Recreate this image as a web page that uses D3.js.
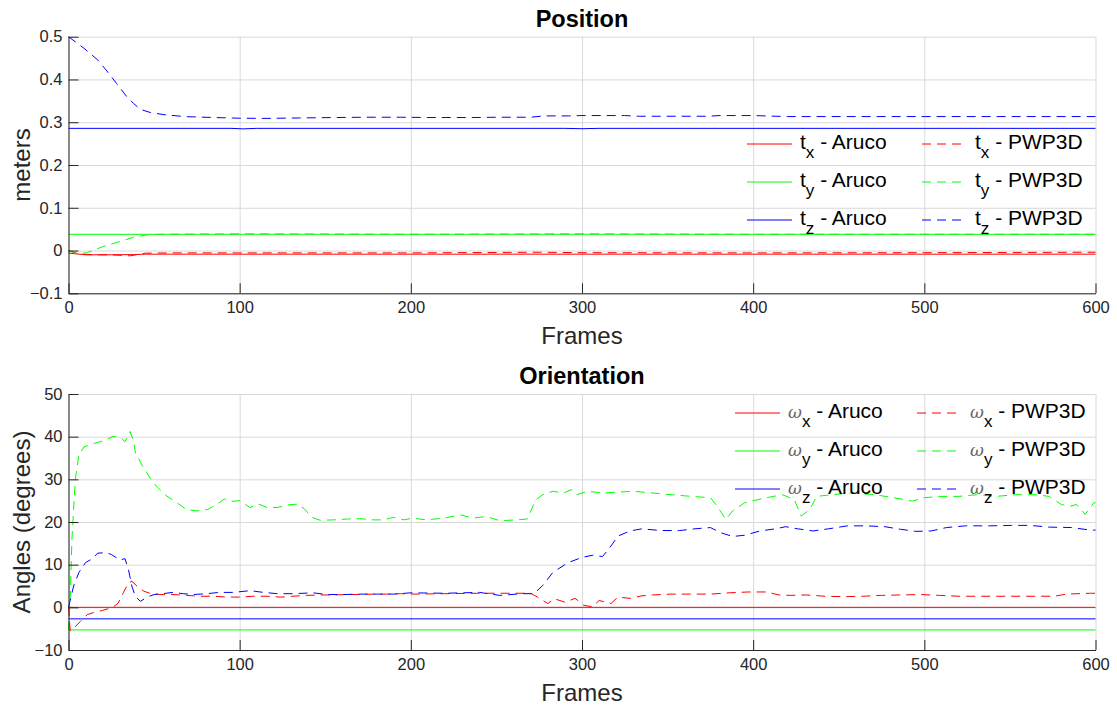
<!DOCTYPE html>
<html>
<head>
<meta charset="utf-8">
<script src="https://cdn.jsdelivr.net/npm/d3@7"></script>
<style>
  body { margin: 0; background: #fff; }
  svg { display: block; font-family: "Liberation Sans", Arial, sans-serif; }
</style>
</head>
<body>
<svg id="canvas"></svg>
<script>
// ---- data ----
const FRAME_TICKS = [0, 100, 200, 300, 400, 500, 600];
const POS_TICKS = [-0.1, 0, 0.1, 0.2, 0.3, 0.4, 0.5];
const ANG_TICKS = [-10, 0, 10, 20, 30, 40, 50];

// Position (meters)
const txArucoF = [0, 10, 25, 38, 45, 600];
const txArucoV = [-0.006, -0.01, -0.01, -0.0095, -0.0085, -0.0085];
const tyArucoF = [0, 600];
const tyArucoV = [0.038, 0.038];
const tzArucoF = [0, 95, 102, 110, 290, 300, 310, 600];
const tzArucoV = [0.2857, 0.2857, 0.2845, 0.2857, 0.2857, 0.2848, 0.2857, 0.2857];

const txPwpF = [0, 6, 15, 25, 36, 45, 60, 100, 200, 275, 300, 400, 500, 600];
const txPwpV = [0, -0.008, -0.01, -0.01, -0.0124, -0.0062, -0.0055, -0.0055, -0.0055, -0.004, -0.005, -0.0055, -0.005, -0.004];
const tyPwpF = [0, 5, 11, 20, 30, 38, 46, 54, 100, 200, 300, 400, 500, 600];
const tyPwpV = [0, -0.008, -0.005, 0.009, 0.021, 0.031, 0.0367, 0.038, 0.039, 0.038, 0.039, 0.038, 0.038, 0.038];
const tzPwpF = [0, 9, 17, 22, 28, 34, 38, 42, 48, 57, 69, 85, 100, 116, 135, 155, 175, 194, 210, 237, 250, 270, 278, 292, 300, 325, 333, 374, 380, 400, 420, 500, 600];
const tzPwpV = [0.5, 0.473, 0.446, 0.422, 0.391, 0.36, 0.344, 0.33, 0.3225, 0.317, 0.313, 0.311, 0.3094, 0.309, 0.31, 0.311, 0.3117, 0.3117, 0.311, 0.311, 0.3117, 0.3117, 0.3148, 0.3148, 0.3156, 0.3156, 0.314, 0.314, 0.3156, 0.3156, 0.3132, 0.3132, 0.3132];

// Orientation (degrees)
const wxArucoF = [0, 600];
const wxArucoV = [0, 0];
const wyArucoF = [0, 600];
const wyArucoV = [-5.3, -5.3];
const wzArucoF = [0, 600];
const wzArucoV = [-2.7, -2.7];

const wxPwpF = [0, 1, 2, 7, 11, 15, 20, 26, 29, 32, 35, 37, 40, 44, 48, 54, 61, 69, 77, 85, 92, 100, 108, 116, 124, 131, 139, 147, 155, 163, 170, 178, 186, 194, 202, 220, 240, 252, 270, 274, 280, 284, 290, 296, 301, 306, 310, 317, 321, 328, 335, 341, 352, 364, 375, 386, 397, 408, 415, 422, 431, 442, 453, 464, 475, 486, 498, 509, 520, 531, 542, 553, 565, 576, 583, 597, 600];
const wxPwpV = [0, -5.5, -5.3, -3.3, -1.7, -1.2, -0.7, 0, 1, 3.4, 5.7, 6.1, 5, 3.8, 3.2, 3, 3, 2.8, 2.6, 2.6, 2.4, 2.4, 2.6, 2.6, 2.4, 2.6, 2.8, 2.9, 2.9, 3, 3, 3.1, 3.1, 3.2, 3.1, 3.2, 3.3, 3.3, 3.3, 2.4, 0.9, 2, 1.2, 2.1, 0.5, 0.1, 1.6, 0.9, 2.4, 2.1, 2.7, 2.9, 3.1, 3.1, 3.1, 3.4, 3.6, 3.6, 2.9, 2.8, 2.9, 2.6, 2.5, 2.6, 2.8, 2.9, 3.0, 2.8, 2.6, 2.6, 2.6, 2.6, 2.6, 2.6, 3.1, 3.3, 3.3];
const wyPwpF = [0, 1, 2, 4, 6, 9, 15, 20, 26, 30, 33, 36, 38, 39, 43, 48, 52, 57, 63, 69, 75, 81, 87, 91, 94, 100, 106, 111, 116, 122, 128, 134, 138, 142, 147, 155, 163, 170, 178, 184, 190, 196, 201, 209, 219, 229, 236, 244, 252, 262, 268, 273, 277, 283, 289, 294, 297, 303, 312, 321, 330, 341, 352, 364, 375, 379, 384, 388, 395, 399, 408, 417, 424, 428, 433, 437, 446, 457, 471, 482, 493, 500, 509, 520, 531, 542, 553, 565, 573, 580, 585, 589, 594, 599, 600];
const wyPwpV = [-5.3, 2, 16, 30, 35.6, 37.6, 38.4, 39, 40, 40, 38.8, 41.2, 39, 36.4, 33.3, 30.1, 28.1, 26.2, 24.6, 22.9, 22.6, 22.9, 24.2, 25.4, 24.8, 25, 23.4, 24.2, 23.4, 23.4, 24, 24.2, 23, 21.1, 20.4, 20.5, 20.7, 20.8, 20.5, 20.5, 21.1, 20.5, 20.9, 20.5, 20.9, 21.7, 20.9, 21.3, 20.3, 20.5, 20.7, 25.2, 26.4, 27.2, 26.8, 27.6, 26.4, 27.2, 26.8, 27, 27.2, 26.8, 26.4, 26, 25.7, 23.7, 20.6, 22.6, 24.5, 24.9, 25.7, 26.4, 25.3, 21.4, 22.9, 26, 26.4, 26.8, 26.4, 25.7, 24.9, 25.7, 26, 26, 26.4, 26, 26.4, 26.4, 26, 24.1, 23.7, 24.1, 21.8, 24.5, 24.5];
const wzPwpF = [0, 3, 6, 10, 14, 17, 22, 25, 30, 33, 35, 37, 39, 42, 46, 50, 55, 61, 67, 73, 81, 88, 96, 106, 114, 122, 131, 143, 151, 161, 170, 180, 190, 200, 220, 240, 252, 265, 272, 277, 283, 292, 300, 306, 312, 317, 321, 328, 335, 346, 357, 366, 375, 381, 388, 395, 404, 413, 419, 426, 435, 444, 455, 466, 477, 486, 495, 504, 513, 524, 538, 551, 562, 573, 586, 597, 600];
const wzPwpV = [0, 5, 8.1, 10.5, 11.4, 12.7, 12.8, 12.4, 11.1, 11.4, 8.9, 5, 2.6, 1.4, 2.4, 3, 3.2, 3.5, 3.2, 3, 3.2, 3.5, 3.5, 3.9, 3.5, 3.2, 3.2, 3.4, 3, 3, 3.1, 3.1, 3.1, 3.4, 3.3, 3.5, 2.8, 3.2, 3.2, 5.1, 8.2, 10.5, 11.7, 12.2, 11.9, 14.4, 16.7, 17.9, 18.4, 18, 18, 18.4, 18.7, 17.5, 16.6, 16.9, 17.9, 18.4, 18.9, 18.4, 17.9, 18.4, 19.1, 19.1, 18.9, 18.3, 17.8, 17.9, 18.7, 19.1, 19.1, 19.2, 19.2, 18.8, 18.7, 18.1, 18.1];

// ---- layout ----
const W = 1117, H = 708;
const RED = '#ff0000', GREEN = '#00ff00', BLUE = '#0000ff';
const DASH = '9,6';
const AXIS_COLOR = '#262626', GRID_COLOR = '#d9d9d9';

const svg = d3.select('svg#canvas').attr('width', W).attr('height', H);
svg.append('rect').attr('width', W).attr('height', H).attr('fill', '#fff');

const zip = (fs, vs) => fs.map((f, i) => [f, vs[i]]);

function drawPanel(cfg) {
    const x = d3.scaleLinear().domain([0, 600]).range([cfg.left, cfg.right]);
    const y = d3.scaleLinear().domain(cfg.yDomain).range([cfg.bottom, cfg.top]);
    const g = svg.append('g');

    // grid
    g.append('g')
        .attr('transform', `translate(0,${cfg.bottom})`)
        .call(d3.axisBottom(x).tickValues(FRAME_TICKS).tickSize(-(cfg.bottom - cfg.top)).tickFormat(''))
        .call(s => s.select('.domain').remove())
        .selectAll('line').attr('stroke', GRID_COLOR);
    g.append('g')
        .attr('transform', `translate(${cfg.left},0)`)
        .call(d3.axisLeft(y).tickValues(cfg.yTicks).tickSize(-(cfg.right - cfg.left)).tickFormat(''))
        .call(s => s.select('.domain').remove())
        .selectAll('line').attr('stroke', GRID_COLOR);

    // series
    const line = d3.line().x(d => x(d[0])).y(d => y(d[1]));
    cfg.series.forEach(s => {
        g.append('path')
            .datum(zip(s.f, s.v))
            .attr('fill', 'none')
            .attr('stroke', s.color)
            .attr('stroke-width', 1)
            .attr('stroke-dasharray', s.dash ? DASH : null)
            .attr('d', line);
    });

    // axes (ticks point inward)
    const xa = g.append('g')
        .attr('transform', `translate(0,${cfg.bottom})`)
        .call(d3.axisBottom(x).tickValues(FRAME_TICKS).tickSizeInner(-10).tickSizeOuter(0).tickPadding(8));
    const ya = g.append('g')
        .attr('transform', `translate(${cfg.left},0)`)
        .call(d3.axisLeft(y).tickValues(cfg.yTicks).tickSizeInner(-10).tickSizeOuter(0).tickPadding(6)
            .tickFormat(cfg.yFormat));
    [xa, ya].forEach(a => {
        a.select('.domain').attr('stroke', AXIS_COLOR);
        a.selectAll('.tick line').attr('stroke', AXIS_COLOR);
        a.selectAll('.tick text').attr('fill', AXIS_COLOR)
            .style('font-size', '16.5px').style('font-family', '"Liberation Sans", Arial, sans-serif');
    });

    // titles and labels
    const cx = (cfg.left + cfg.right) / 2;
    svg.append('text').attr('x', cx).attr('y', cfg.top - 10)
        .attr('text-anchor', 'middle').attr('font-weight', 'bold').attr('font-size', 23.5)
        .attr('fill', '#000').text(cfg.title);
    svg.append('text').attr('x', cx).attr('y', cfg.bottom + 51)
        .attr('text-anchor', 'middle').attr('font-size', 24).attr('fill', AXIS_COLOR).text('Frames');
    svg.append('text')
        .attr('transform', `translate(30,${(cfg.top + cfg.bottom) / 2}) rotate(-90)`)
        .attr('text-anchor', 'middle').attr('font-size', 24).attr('fill', AXIS_COLOR).text(cfg.yLabel);

    // legend (no box)
    cfg.series.forEach((s, i) => {
        const col = s.dash ? 1 : 0, row = i % 3;
        const lx = cfg.legendX[col], ly = cfg.legendY[row];
        svg.append('line')
            .attr('x1', lx).attr('x2', lx + 45).attr('y1', ly).attr('y2', ly)
            .attr('stroke', s.color).attr('stroke-width', 1)
            .attr('stroke-dasharray', s.dash ? DASH : null);
        const t = svg.append('text').attr('x', lx + 53).attr('y', ly + 5)
            .attr('font-size', 21).attr('fill', '#000');
        if (cfg.greek) {
            t.append('tspan').text('ω').attr('font-family', '"DejaVu Serif", serif')
                .attr('font-style', 'italic').attr('fill', '#666').attr('font-size', 17);
        } else {
            t.append('tspan').text('t');
        }
        t.append('tspan').text(s.sub).attr('font-size', 17).attr('dy', 9);
        t.append('tspan').text(' - ' + s.name).attr('dy', -9);
    });
}

drawPanel({
    left: 68.5, right: 1095.5, top: 36.7, bottom: 293.3,
    yDomain: [-0.1, 0.5], yTicks: POS_TICKS, yFormat: d3.format('~g'),
    title: 'Position', yLabel: 'meters', greek: false,
    legendX: [747, 922], legendY: [144, 182, 220],
    series: [
        { f: txArucoF, v: txArucoV, color: RED, dash: false, sub: 'x', name: 'Aruco' },
        { f: tyArucoF, v: tyArucoV, color: GREEN, dash: false, sub: 'y', name: 'Aruco' },
        { f: tzArucoF, v: tzArucoV, color: BLUE, dash: false, sub: 'z', name: 'Aruco' },
        { f: txPwpF, v: txPwpV, color: RED, dash: true, sub: 'x', name: 'PWP3D' },
        { f: tyPwpF, v: tyPwpV, color: GREEN, dash: true, sub: 'y', name: 'PWP3D' },
        { f: tzPwpF, v: tzPwpV, color: BLUE, dash: true, sub: 'z', name: 'PWP3D' }
    ]
});

drawPanel({
    left: 68.5, right: 1095.5, top: 394, bottom: 650,
    yDomain: [-10, 50], yTicks: ANG_TICKS, yFormat: d3.format('d'),
    title: 'Orientation', yLabel: 'Angles (degrees)', greek: true,
    legendX: [735, 917], legendY: [413, 451, 489],
    series: [
        { f: wxArucoF, v: wxArucoV, color: RED, dash: false, sub: 'x', name: 'Aruco' },
        { f: wyArucoF, v: wyArucoV, color: GREEN, dash: false, sub: 'y', name: 'Aruco' },
        { f: wzArucoF, v: wzArucoV, color: BLUE, dash: false, sub: 'z', name: 'Aruco' },
        { f: wxPwpF, v: wxPwpV, color: RED, dash: true, sub: 'x', name: 'PWP3D' },
        { f: wyPwpF, v: wyPwpV, color: GREEN, dash: true, sub: 'y', name: 'PWP3D' },
        { f: wzPwpF, v: wzPwpV, color: BLUE, dash: true, sub: 'z', name: 'PWP3D' }
    ]
});
</script>
</body>
</html>
